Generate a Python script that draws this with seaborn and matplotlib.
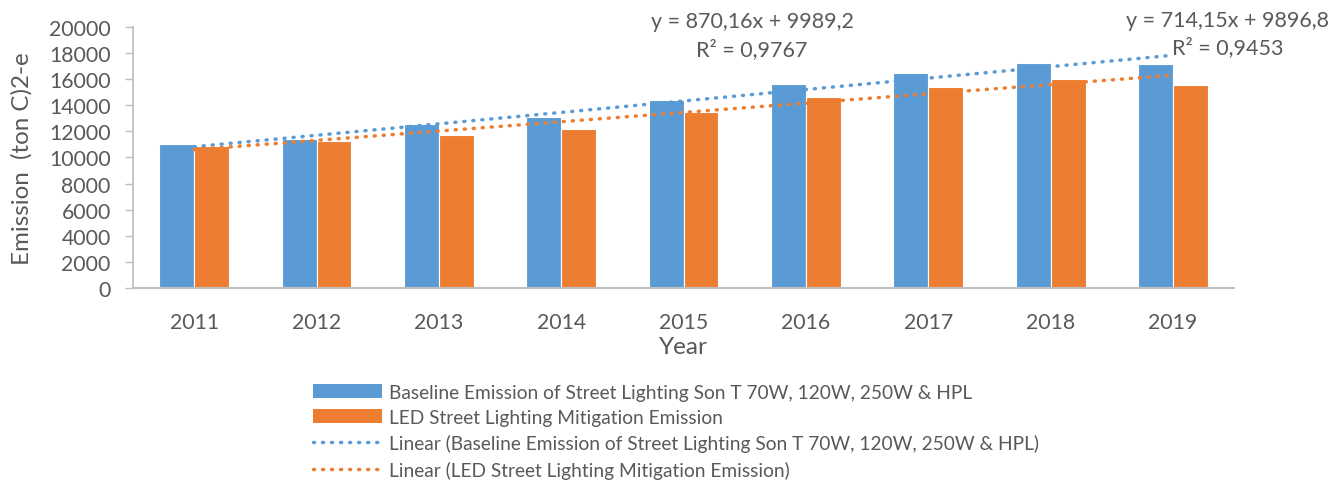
import pandas as pd
import numpy as np
import matplotlib.pyplot as plt
import seaborn as sns
from matplotlib.patches import Patch
from matplotlib.lines import Line2D

years = ["2011", "2012", "2013", "2014", "2015", "2016", "2017", "2018", "2019"]
baseline = [11000, 11420, 12570, 13080, 14380, 15600, 16500, 17220, 17190]
led = [10870, 11240, 11750, 12160, 13460, 14610, 15430, 16010, 15530]

name_base = "Baseline Emission of Street Lighting Son T 70W, 120W, 250W & HPL"
name_led = "LED Street Lighting Mitigation Emission"
eq_base = ["y = 870,16x + 9989,2", "R² = 0,9767"]
eq_led = ["y = 714,15x + 9896,8", "R² = 0,9453"]

blue = "#5B9BD5"
orange = "#ED7D31"
grey = "#595959"

sns.set_theme(style="white")
plt.rcParams['font.family'] = ['Lato', 'DejaVu Sans']

df = pd.DataFrame({
    "Year": years * 2,
    "Emission": baseline + led,
    "Series": [name_base] * len(years) + [name_led] * len(years),
})

fig = plt.figure(figsize=(13.3, 4.81), dpi=100)
ax = fig.add_axes([0.1, 0.399, 0.828, 0.543])

sns.barplot(data=df, x="Year", y="Emission", hue="Series", palette=[blue, orange],
            saturation=1, width=0.57, gap=0, edgecolor="white", linewidth=0.8,
            legend=False, ax=ax)

# linear trendlines, like Excel
dots = dict(linestyle=(0, (0.3, 2.3)), linewidth=2.5, dash_capstyle="round")
pos = np.arange(len(years))
sns.regplot(x=pos, y=np.array(baseline), scatter=False, ci=None, color=blue, ax=ax, line_kws=dots)
sns.regplot(x=pos, y=np.array(led), scatter=False, ci=None, color=orange, ax=ax, line_kws=dots)

eq_kw = dict(ha="center", va="center", fontsize=15.5, color=grey, clip_on=False)
ax.text(4.56, 20420, eq_base[0], **eq_kw)
ax.text(4.56, 18300, eq_base[1], **eq_kw)
ax.text(8.445, 20560, eq_led[0], **eq_kw)
ax.text(8.445, 18520, eq_led[1], **eq_kw)

ax.set_xlim(-0.5, 8.5)
ax.set_ylim(0, 20000)
ax.set_yticks(range(0, 20001, 2000))
ax.tick_params(axis="y", labelsize=15.3, colors="#BFBFBF", labelcolor=grey,
               length=6, width=1, direction="out", left=True, pad=10)
ax.tick_params(axis="x", labelsize=15.3, labelcolor=grey, length=0, pad=17)
for s in ["top", "right"]:
    ax.spines[s].set_visible(False)
ax.spines["left"].set_color("#BFBFBF")
ax.spines["bottom"].set_color("#BFBFBF")
ax.spines["bottom"].set_linewidth(1.5)
ax.set_xlabel("Year", fontsize=17.5, color=grey, labelpad=3)
ax.set_ylabel("Emission  (ton C)2-e", fontsize=17.4, color=grey, labelpad=12)

handles = [
    Patch(facecolor=blue, edgecolor="none"),
    Patch(facecolor=orange, edgecolor="none"),
    Line2D([], [], color=blue, **dots),
    Line2D([], [], color=orange, **dots),
]
labels = [name_base, name_led, "Linear (" + name_base + ")", "Linear (" + name_led + ")"]
fig.legend(handles, labels, loc="upper left", bbox_to_anchor=(0.228, 0.22), frameon=False,
           fontsize=13.8, labelcolor=grey, handlelength=3.6, handleheight=0.75,
           handletextpad=0.4, labelspacing=0.43, borderpad=0)

fig.savefig("out.png", dpi=100)
